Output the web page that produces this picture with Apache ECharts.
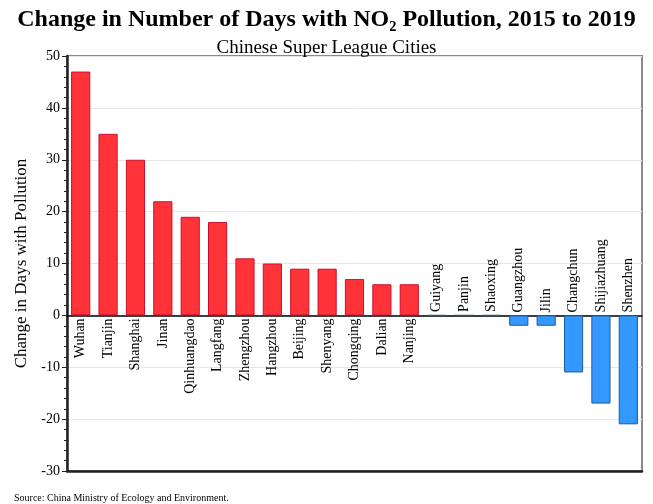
<!DOCTYPE html>
<html>
<head>
<meta charset="utf-8">
<script src="https://cdn.jsdelivr.net/npm/echarts@6/dist/echarts.min.js"></script>
<style>html,body{margin:0;padding:0;background:#fff;}#c{width:653px;height:504px;}</style>
</head>
<body>
<div id="c"></div>
<script>
const cities = ['Wuhan','Tianjin','Shanghai','Jinan','Qinhuangdao','Langfang','Zhengzhou','Hangzhou','Beijing','Shenyang','Chongqing','Dalian','Nanjing','Guiyang','Panjin','Shaoxing','Guangzhou','Jilin','Changchun','Shijiazhuang','Shenzhen'];
const changes = [47,35,30,22,19,18,11,10,9,9,7,6,6,0,0,0,-2,-2,-11,-17,-21];
const yTicks = {min:-30, max:50, interval:10};
const titleText = 'Change in Number of Days with NO\u2082 Pollution, 2015 to 2019';
const subtitleText = 'Chinese Super League Cities';
const yName = 'Change in Days with Pollution';
const sourceText = 'Source: China Ministry of Ecology and Environment.';

const serif = '"Liberation Serif", "Times New Roman", serif';
const data = changes.map(function(v, i){
  const pos = v > 0;
  return {
    value: v,
    itemStyle: pos ? {color:'#ff3338', borderColor:'#c8102e', borderWidth:1}
                   : {color:'#3399ff', borderColor:'#1f5a96', borderWidth:1},
    label: {
      show: true,
      formatter: cities[i],
      position: pos ? 'bottom' : 'top',
      distance: 3,
      rotate: 90,
      align: pos ? 'right' : 'left',
      verticalAlign: 'middle',
      color: '#000',
      fontFamily: serif,
      fontSize: 14
    }
  };
});

const chart = echarts.init(document.getElementById('c'), null, {renderer:'canvas'});
chart.setOption({
  animation: false,
  backgroundColor: '#fff',
  title: [
    {text: titleText, left: 'center', top: 3, textStyle:{fontFamily: serif, fontWeight:'bold', fontSize:24, color:'#000'}},
    {text: subtitleText, left: 'center', top: 34, textStyle:{fontFamily: serif, fontWeight:'normal', fontSize:19, color:'#000'}},
    {text: sourceText, left: 9, top: 488, textStyle:{fontFamily: serif, fontWeight:'normal', fontSize:10, color:'#000'}}
  ],
  grid: {left: 67, right: 11, top: 56, bottom: 33, show: true, borderColor:'#8a8a8a', borderWidth: 2, backgroundColor:'transparent'},
  xAxis: [
    {type:'category', data: cities, axisLine:{onZero:true, lineStyle:{color:'#000', width:1.5}}, axisTick:{show:false}, axisLabel:{show:false}, splitLine:{show:false}},
    {type:'category', data: cities, position:'bottom', axisLine:{onZero:false, lineStyle:{color:'#222', width:2.5}}, axisTick:{show:false}, axisLabel:{show:false}}
  ],
  yAxis: {
    type:'value', min: yTicks.min, max: yTicks.max, interval: yTicks.interval,
    name: yName, nameLocation:'middle', nameGap: 30,
    nameTextStyle:{fontFamily: serif, fontSize:17, color:'#000'},
    axisLine:{show:true, lineStyle:{color:'#222', width:2.5}},
    axisTick:{show:true, length:5, lineStyle:{color:'#222'}},
    minorTick:{show:true, splitNumber:5, length:3, lineStyle:{color:'#222'}},
    axisLabel:{fontFamily: serif, fontSize:14, color:'#000', margin:7},
    splitLine:{show:true, lineStyle:{color:'#e6e6e6', width:1}}
  },
  series: [{
    type:'bar', data: data, barCategoryGap:'30%', xAxisIndex:0
  }]
});
</script>
</body>
</html>
